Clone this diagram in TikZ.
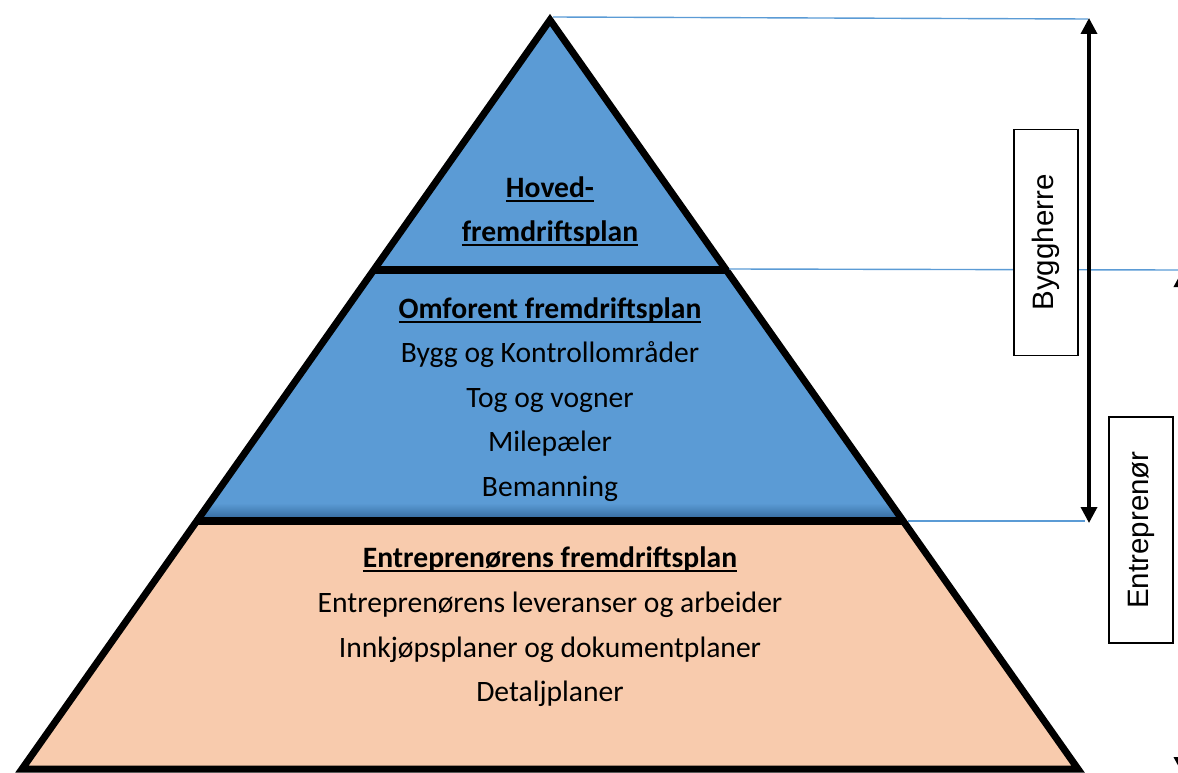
\documentclass[tikz,border=0pt]{standalone}
\usepackage{fontspec}
\setmainfont{Carlito}
\newfontfamily\boxfont{Liberation Sans}
\usetikzlibrary{arrows.meta}

\definecolor{pyrblue}{HTML}{5B9BD5}
\definecolor{pyrshade}{HTML}{2F6496}
\definecolor{pyrpeach}{HTML}{F8CBAD}
\definecolor{guide}{HTML}{5B9BD5}

% bold heading with a heavy underline
\newcommand\headline[1]{\setbox0\hbox{\bfseries #1}\rlap{\rule[-4.8pt]{\wd0}{2.1pt}}\box0}

\tikzset{
  body/.style={anchor=base, inner sep=0pt, font=\fontsize{29.6}{36}\selectfont},
  head/.style={body},
  outline/.style={line width=7pt, line join=miter, draw=black},
  divider/.style={line width=8pt, draw=black},
  guideline/.style={draw=guide, line width=1.4pt},
  span/.style={line width=3.5pt, {Triangle[width=16pt,length=16pt]}-{Triangle[width=16pt,length=16pt]}},
  rolebox/.style={draw=black, line width=1.2pt, fill=white, rotate=90, inner sep=0pt,
    minimum width=226pt, minimum height=64pt, font=\boxfont\fontsize{29.5}{35}\selectfont}
}

\begin{document}
\begin{tikzpicture}[x=1pt, y=-1pt]
\useasboundingbox (0,0) rectangle (1178,773);
\begin{scope}
\clip (0,0) rectangle (1178,773);

% corner points of the pyramid and its two cut levels
\coordinate (apex) at (550,20);
\coordinate (bl) at (22,769);
\coordinate (br) at (1078,769);
\coordinate (ul) at (373.8,270);
\coordinate (ur) at (726.2,270);
\coordinate (ml) at (196.8,521);
\coordinate (mr) at (903.2,521);

% fills of the three tiers
\fill[pyrblue] (apex) -- (ur) -- (ul) -- cycle;
\fill[pyrblue] (ul) -- (ur) -- (mr) -- (ml) -- cycle;
\begin{scope}
  \clip (ul) -- (ur) -- (mr) -- (ml) -- cycle;
  \shade[top color=pyrblue, bottom color=pyrshade] (0,503) rectangle (1178,521);
\end{scope}
\fill[pyrpeach] (ml) -- (mr) -- (br) -- (bl) -- cycle;

% tier dividers and outline
\draw[divider] (ul) -- (ur);
\draw[divider] (ml) -- (mr);
\draw[outline] (apex) -- (br) -- (bl) -- cycle;

% tier texts
\node[head] (t1a) at (550,197) {\headline{Hoved-}};
\node[head] (t1b) at (550,241) {\headline{fremdriftsplan}};

\node[head] (t2a) at (550,318) {\headline{Omforent fremdriftsplan}};
\node[body] (t2b) at (550,362) {Bygg og Kontrollområder};
\node[body] (t2c) at (550,407) {Tog og vogner};
\node[body] (t2d) at (550,451) {Milepæler};
\node[body] (t2e) at (550,496) {Bemanning};

\node[head] (t3a) at (550,567) {\headline{Entreprenørens fremdriftsplan}};
\node[body] (t3b) at (550,612) {Entreprenørens leveranser og arbeider};
\node[body] (t3c) at (550,657) {Innkjøpsplaner og dokumentplaner};
\node[body] (t3d) at (550,701) {Detaljplaner};

% guide lines out to the right
\coordinate (g1) at (1088,19);
\coordinate (g2) at (1178,270);
\coordinate (g3) at (1085,521);
\coordinate (apexr) at (553,17);
\coordinate (urr) at (729,269);
\coordinate (mrr) at (908,521);
\draw[guideline] (apexr) -- (g1);
\draw[guideline] (urr) -- (g2);
\draw[guideline] (mrr) -- (g3);

% span arrows
\coordinate (s1t) at (1089,18);
\coordinate (s1b) at (1089,523);
\draw[span] (s1t) -- (s1b);
\coordinate (s2t) at (1182,271);
\coordinate (s2b) at (1182,773);
\draw[span] (s2t) -- (s2b);

% role labels
\node[rolebox] (byggherre) at (1046,242.5) {Byggherre};
\node[rolebox] (entreprenor) at (1141,530) {Entreprenør};
\end{scope}
\end{tikzpicture}
\end{document}
